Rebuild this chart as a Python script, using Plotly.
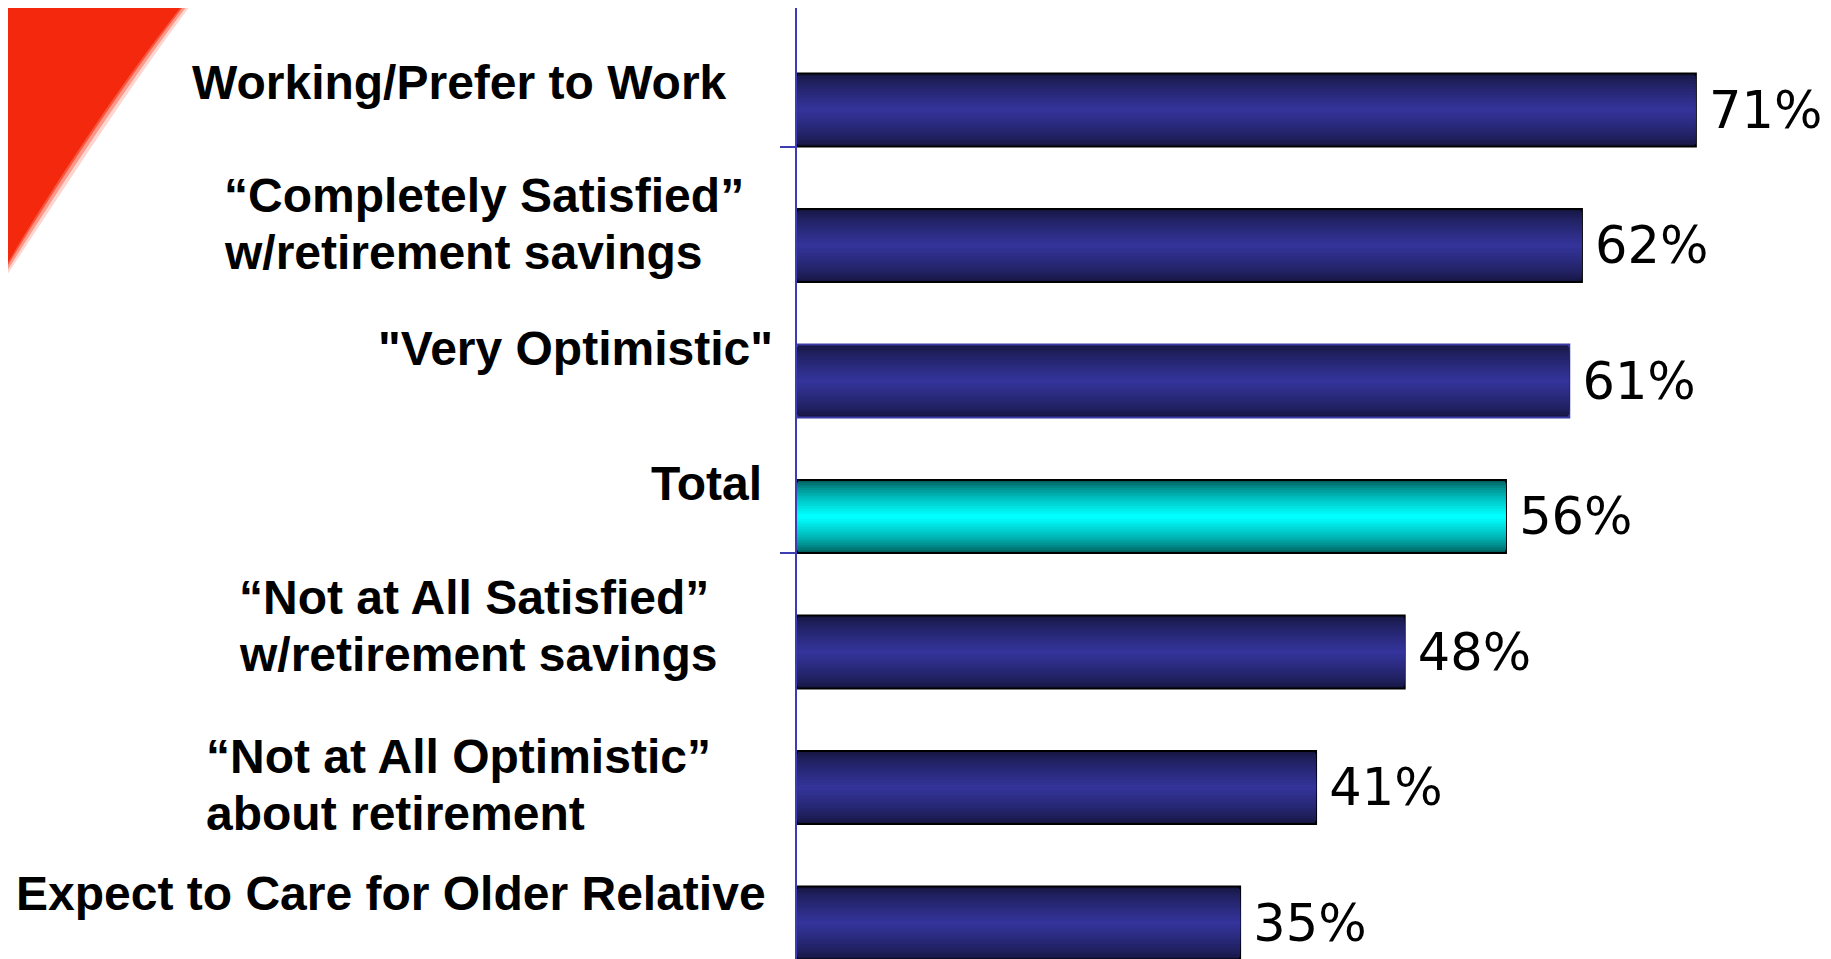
import plotly.graph_objects as go

# ---- data ----
categories = [
    "Working/Prefer to Work",
    "“Completely Satisfied”<br>w/retirement savings",
    "\"Very Optimistic\"",
    "Total",
    "“Not at All Satisfied”<br>w/retirement savings",
    "“Not at All Optimistic”<br>about retirement",
    "Expect to Care for Older Relative",
]
values = [71, 62, 61, 56, 48, 41, 35]
highlight = "Total"

# ---- layout / style ----
OFF = 8                      # browser body margin
W, H = 1831 - OFF, 959 - OFF
AXIS_X, AXIS_TOP = 797, 8    # page coordinates
ML, MR, MT, MB = AXIS_X - OFF, 0, AXIS_TOP - OFF, 0
PW, PH = W - ML - MR, H - MT - MB
XMAX = PW / 12.66
CAT_PX = 135.5
FIRST_CENTER = 110           # page y of first bar centre
y_top = -(FIRST_CENTER - AXIS_TOP) / CAT_PX
y_bot = y_top + PH / CAT_PX
BAR_W = 0.54
tick_pos = [0 + BAR_W / 2, 3 + BAR_W / 2]

# label placement (page-pixel left edge, vertical shift relative to bar centre)
label_left = [190, 222, 376, 649, 237, 204, 14]
label_dy = [28, 22, 33, 33, 26, 3, 30]
LINE_PX = 57

def px2paper(px, py):
    return (px - AXIS_X) / PW, 1 - (py - AXIS_TOP) / PH

N = 14
navy_dark, navy_light = (22, 22, 66), (51, 51, 153)
cyan_dark, cyan_light = (0, 95, 95), (0, 255, 255)

def mix(a, b, f):
    return "rgb(%d,%d,%d)" % tuple(round(a[i] + (b[i] - a[i]) * f) for i in range(3))

fig = go.Figure()
for k in range(N):
    f = (k / (N - 1)) ** 0.75
    w = BAR_W * (1 - k / N)
    cols = [mix(cyan_dark, cyan_light, f) if c == highlight else mix(navy_dark, navy_light, f)
            for c in categories]
    kw = {}
    if k == 0:
        kw = dict(
            texttemplate="\u2009%{x}%",
            textposition="outside",
            textfont=dict(family="DejaVu Sans", size=51, color="black"),
            constraintext="none",
            cliponaxis=False,
        )
        line = dict(color=["#3a3aa8" if c == '"Very Optimistic"' else "black" for c in categories],
                    width=2)
    else:
        line = dict(width=0)
    fig.add_trace(go.Bar(
        x=values, y=categories, orientation="h",
        width=[w] * len(values),
        marker=dict(color=cols, line=line),
        hoverinfo="skip", showlegend=False, **kw,
    ))

annotations = []
for c, lx, dy in zip(categories, label_left, label_dy):
    xp, _ = px2paper(lx, 0)
    lines = c.split("<br>")
    n = len(lines)
    for i, ln in enumerate(lines):
        annotations.append(dict(
            x=xp, xref="paper", y=c, yref="y",
            xanchor="left", yanchor="middle", align="left",
            yshift=dy + ((n - 1) / 2 - i) * LINE_PX, showarrow=False, text=ln,
            font=dict(family="Liberation Sans", size=48, color="black", weight="bold"),
        ))

def swoosh(pts):
    p = [px2paper(*q) for q in pts]
    return "M %f,%f L %f,%f C %f,%f %f,%f %f,%f Z" % (
        p[0][0], p[0][1], p[1][0], p[1][1], p[2][0], p[2][1], p[3][0], p[3][1], p[4][0], p[4][1])

shapes = []
for grow, op in [(8, 0.2), (5, 0.35), (2, 0.6), (0, 1.0)]:
    shapes.append(dict(
        type="path",
        path=swoosh([(0, -2), (188 + grow, -2), (121 + grow, 82 + grow * 0.6),
                     (50 + grow, 190 + grow), (0, 276 + grow * 1.2)]),
        xref="paper", yref="paper",
        fillcolor="rgba(244,40,12,%.2f)" % op, line=dict(width=0), layer="below"))

fig.update_layout(
    width=W, height=H,
    margin=dict(l=ML, r=MR, t=MT, b=MB, pad=0),
    paper_bgcolor="white", plot_bgcolor="white",
    barmode="overlay",
    annotations=annotations,
    shapes=shapes,
    xaxis=dict(visible=False, range=[0, XMAX], fixedrange=True),
    yaxis=dict(
        type="category", categoryorder="array", categoryarray=categories,
        range=[y_bot, y_top],
        showline=True, linecolor="#3c3cb4", linewidth=2,
        ticks="outside", ticklen=15, tickwidth=2, tickcolor="#3c3cb4",
        tickmode="array", tickvals=tick_pos, showticklabels=False,
        showgrid=False, zeroline=False,
    ),
)

fig.write_html("out.html")
